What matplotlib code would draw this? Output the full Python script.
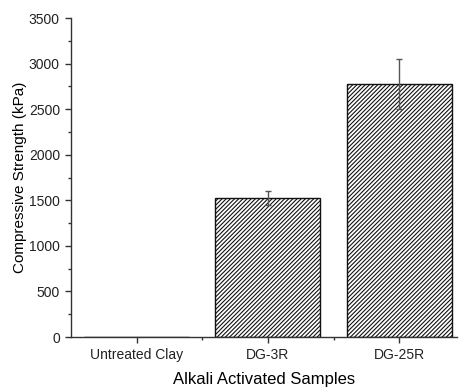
import matplotlib
matplotlib.use("Agg")
import matplotlib.pyplot as plt
from matplotlib.ticker import MultipleLocator, FixedLocator

plt.rcParams['font.family'] = ['Liberation Sans', 'DejaVu Sans']
plt.rcParams['hatch.linewidth'] = 0.8

# Compressive strength of the samples (kPa) with standard deviation
samples = ["Untreated Clay", "DG-3R", "DG-25R"]
strength = [0, 1525, 2776]
strength_err = [0, 75, 275]

fig = plt.figure(figsize=(4.59, 3.88), dpi=100)
ax = fig.add_axes([0.1547, 0.1314, 0.841, 0.8222])

x = list(range(len(samples)))
bars = ax.bar(x, strength, width=0.8, color='white', edgecolor='#111111',
              linewidth=1.0, hatch='////////', zorder=2)
ax.errorbar(x[1:], strength[1:], yerr=strength_err[1:], fmt='none',
            ecolor='#555555', elinewidth=1.0, capsize=2.5, capthick=1.0,
            zorder=3)

ax.set_xlim(-0.5, 2.44)
ax.set_ylim(0, 3500)
ax.set_xticks(x)
ax.set_xticklabels(samples, fontsize=10, color='#222222')
ax.xaxis.set_minor_locator(FixedLocator([0.5, 1.5]))
ax.yaxis.set_major_locator(MultipleLocator(500))
ax.yaxis.set_minor_locator(MultipleLocator(250))
ax.tick_params(axis='y', labelsize=10, labelcolor='#222222')
ax.tick_params(which='major', length=4.5, width=1, color='#333333')
ax.tick_params(which='minor', length=2.5, width=1, color='#333333')

for side in ('top', 'right'):
    ax.spines[side].set_visible(False)
for side in ('left', 'bottom'):
    ax.spines[side].set_linewidth(1.0)
    ax.spines[side].set_color('#333333')

ax.set_xlabel('Alkali Activated Samples', fontsize=12, labelpad=7)
ax.set_ylabel('Compressive Strength (kPa)', fontsize=11, labelpad=1)

fig.savefig('out.png', dpi=100)
